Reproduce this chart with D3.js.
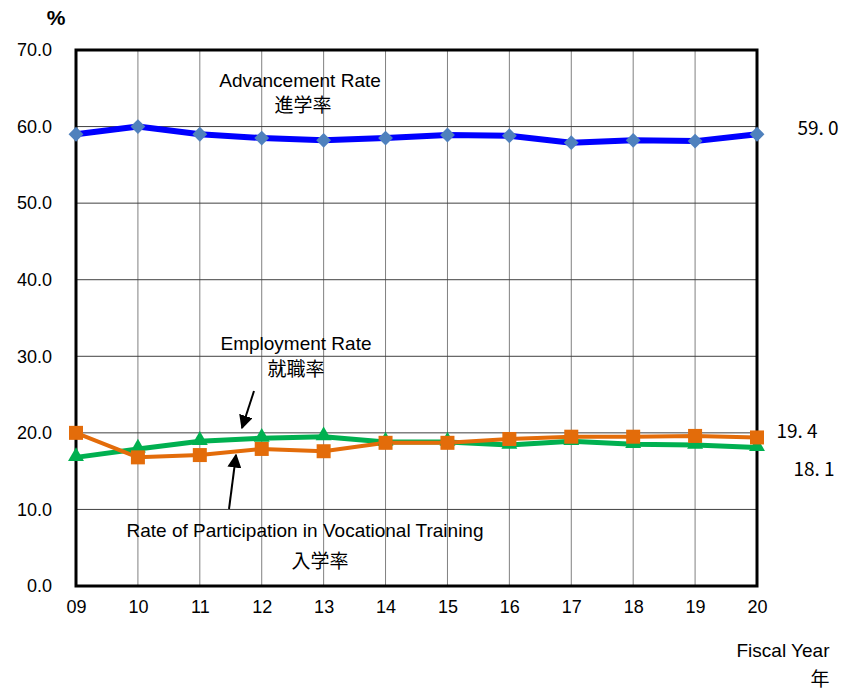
<!DOCTYPE html>
<html><head><meta charset="utf-8">
<script src="https://cdn.jsdelivr.net/npm/d3@7"></script>
<style>body{margin:0;background:#fff}svg{display:block}</style>
</head><body>
<svg id="c" width="850" height="690"></svg>
<script>
const years = ["09","10","11","12","13","14","15","16","17","18","19","20"];
const advancement = [59.0,60.0,59.0,58.5,58.2,58.5,58.9,58.8,57.9,58.2,58.1,59.0];
const employment = [16.8,17.9,18.9,19.3,19.5,18.8,18.8,18.4,18.9,18.5,18.4,18.1];
const vocational = [20.0,16.8,17.1,17.9,17.6,18.7,18.7,19.2,19.5,19.5,19.6,19.4];
const yTicks = [0,10,20,30,40,50,60,70];

const svg = d3.select("#c");
const L=76,R=757,T=50,B=586;
const x = d3.scalePoint().domain(years).range([L,R]);
const y = d3.scaleLinear().domain([0,70]).range([B,T]);
const font = "Arial, 'Liberation Sans', sans-serif";

// vertical grid
svg.append("g").selectAll("line").data(years.slice(1,-1)).join("line")
  .attr("x1",d=>x(d)).attr("x2",d=>x(d)).attr("y1",T).attr("y2",B)
  .attr("stroke","#808080").attr("stroke-width",1);
// horizontal grid
svg.append("g").selectAll("line").data(yTicks.slice(1,-1)).join("line")
  .attr("x1",L).attr("x2",R).attr("y1",d=>y(d)).attr("y2",d=>y(d))
  .attr("stroke","#404040").attr("stroke-width",1);
// frame
svg.append("rect").attr("x",L).attr("y",T).attr("width",R-L).attr("height",B-T)
  .attr("fill","none").attr("stroke","#000").attr("stroke-width",3);

// y axis labels
const ya = svg.append("g").attr("transform",`translate(${L},0)`)
  .call(d3.axisLeft(y).tickValues(yTicks).tickFormat(d3.format(".1f")).tickSize(0).tickPadding(24));
ya.select(".domain").remove();
ya.selectAll("text").attr("font-family",font).attr("font-size",18).attr("fill","#000");

const xa = svg.append("g").attr("transform",`translate(0,${B})`)
  .call(d3.axisBottom(x).tickSize(0).tickPadding(14));
xa.select(".domain").remove();
xa.selectAll("text").attr("font-family",font).attr("font-size",18).attr("fill","#000");

const line = d3.line().x((d,i)=>x(years[i])).y(d=>y(d));

// employment (green)
svg.append("path").datum(employment).attr("d",line).attr("fill","none")
  .attr("stroke","#00b050").attr("stroke-width",5).attr("stroke-linejoin","round");
// vocational (orange)
svg.append("path").datum(vocational).attr("d",line).attr("fill","none")
  .attr("stroke","#e36c0a").attr("stroke-width",4).attr("stroke-linejoin","round");
svg.append("g").selectAll("path").data(employment).join("path")
  .attr("d",d3.symbol(d3.symbolTriangle,110))
  .attr("transform",(d,i)=>`translate(${x(years[i])},${y(d)-1})`).attr("fill","#00b050");
svg.append("g").selectAll("rect").data(vocational).join("rect")
  .attr("x",(d,i)=>x(years[i])-7).attr("y",d=>y(d)-7).attr("width",14).attr("height",14)
  .attr("fill","#e36c0a");
// advancement (blue)
svg.append("path").datum(advancement).attr("d",line).attr("fill","none")
  .attr("stroke","#0000ff").attr("stroke-width",6).attr("stroke-linejoin","round");
svg.append("g").selectAll("path").data(advancement).join("path")
  .attr("d",d3.symbol(d3.symbolSquare,110))
  .attr("transform",(d,i)=>`translate(${x(years[i])},${y(d)}) rotate(45)`).attr("fill","#4f81bd");

// text helper
function txt(t,xx,yy,opts={}){
  return svg.append("text").attr("x",xx).attr("y",yy).text(t)
    .attr("font-family",opts.f||font).attr("font-size",opts.s||19)
    .attr("text-anchor",opts.a||"middle").attr("font-weight",opts.w||"normal").attr("fill","#000");
}
const jp = "'Noto Sans CJK JP', sans-serif";
txt("%",56,25,{w:"bold",s:21});
txt("Advancement Rate",300,87);
txt("進学率",303,112,{f:jp,s:19});
txt("Employment Rate",296,350);
txt("就職率",296,376,{f:jp,s:19});
txt("Rate of Participation in Vocational Training",305,537);
txt("入学率",320,568,{f:jp,s:19});
txt("Fiscal Year",783,657);
txt("年",820,686,{f:jp,s:19});
txt("59. 0",818,135,{f:jp,s:19});
txt("19. 4",797,438,{f:jp,s:19});
txt("18. 1",814,476,{f:jp,s:19});

// arrows
const defs = svg.append("defs");
defs.append("marker").attr("id","ah").attr("viewBox","0 0 10 10").attr("refX",9).attr("refY",5)
  .attr("markerWidth",7).attr("markerHeight",7).attr("orient","auto")
  .append("path").attr("d","M0,0 L10,5 L0,10 Z").attr("fill","#000");
svg.append("line").attr("x1",254).attr("y1",391).attr("x2",242).attr("y2",428)
  .attr("stroke","#000").attr("stroke-width",2).attr("marker-end","url(#ah)");
svg.append("line").attr("x1",229).attr("y1",509).attr("x2",236).attr("y2",455)
  .attr("stroke","#000").attr("stroke-width",2).attr("marker-end","url(#ah)");
</script>
</body></html>
